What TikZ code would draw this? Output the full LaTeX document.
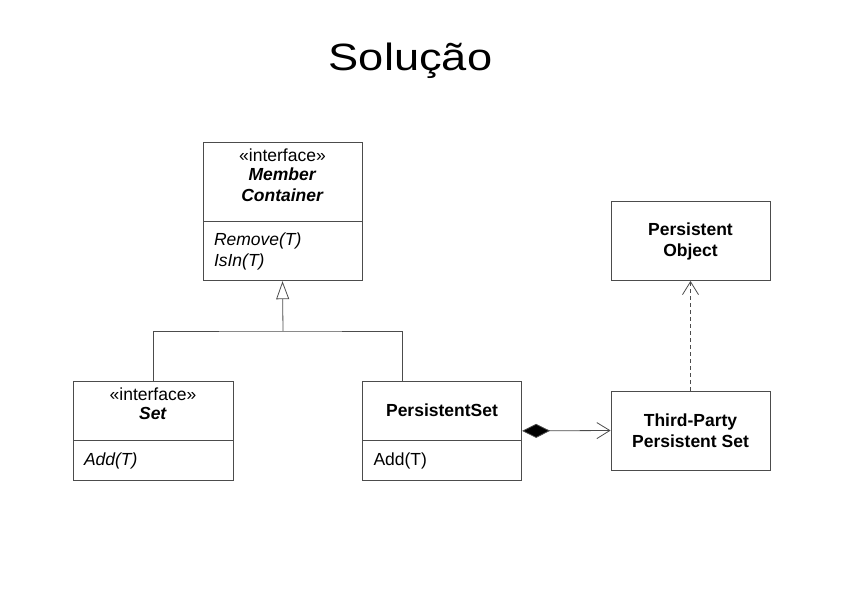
\documentclass[tikz,border=0pt]{standalone}
\usepackage{fontspec}
\setmainfont{Liberation Sans}
\usetikzlibrary{arrows.meta,positioning,fit}

\newcommand{\umlfont}{\fontsize{17.5}{21}\selectfont}

\tikzset{
  umlline/.style={draw=black!70, line width=0.8pt},
  classhead/.style={umlline, minimum width=159pt, align=center, inner sep=0pt},
  classbody/.style={umlline, minimum width=159pt, text width=137pt, inner xsep=11pt, inner ysep=0pt, align=left},
  plainclass/.style={umlline, minimum width=159pt, minimum height=79pt, align=center, font=\umlfont\bfseries},
  inherit/.style={umlline, -{Triangle[open, length=18pt, width=13pt]}},
  compose/.style={umlline, {Diamond[length=28pt, width=14pt, fill=black]}-{Straight Barb[length=13pt, width=16pt, line width=0.8pt]}},
  depends/.style={umlline, dash pattern=on 4pt off 3pt, -{Straight Barb[length=13pt, width=16pt, line width=0.8pt]}}
}

\begin{document}
\begin{tikzpicture}[x=1pt, y=-1pt, font=\umlfont]
  \useasboundingbox (0,0) rectangle (842,595);

  \node[anchor=base] (title) at (410.5,70) {\fontsize{38}{44}\selectfont\scalebox{1.19}[1]{Solução}};

  % interface MemberContainer
  \node[classhead, minimum height=79pt, text depth=13pt] (mH) at (282.5,181.5)
    {«interface»\\[-2pt]\textbf{\textit{Member}}\\\textbf{\textit{Container}}};
  \node[classbody, minimum height=59pt, below=0pt of mH] (mB)
    {\textit{Remove(T)}\\\textit{IsIn(T)}};

  % interface Set
  \node[classhead, minimum width=160pt, minimum height=59pt, text depth=13pt] (sH) at (153,410.5)
    {«interface»\\[-2pt]\textbf{\textit{Set}}};
  \node[classbody, minimum width=160pt, text width=138pt, minimum height=40pt, below=0pt of sH] (sB)
    {\textit{Add(T)}};

  % PersistentSet
  \node[classhead, minimum height=59pt, font=\umlfont\bfseries] (psH) at (442,410.5) {PersistentSet};
  \node[classbody, minimum height=40pt, below=0pt of psH] (psB) {Add(T)};
  \node[fit=(psH)(psB), inner sep=0pt] (ps) {};

  % third party classes
  \node[plainclass] (po) at (690.5,241) {Persistent\\Object};
  \node[plainclass] (tp) at (690.5,430.5) {Third-Party\\Persistent Set};

  \coordinate (join) at (283,331);
  \coordinate (psTop) at ([xshift=40pt]psH.north west);

  \draw[umlline] (sH.north) |- (join) -| (psTop);
  \draw[inherit] (join) -- (mB.south);
  \draw[compose] (ps.east) -- (tp.west);
  \draw[depends] (tp.north) -- (po.south);
\end{tikzpicture}
\end{document}
